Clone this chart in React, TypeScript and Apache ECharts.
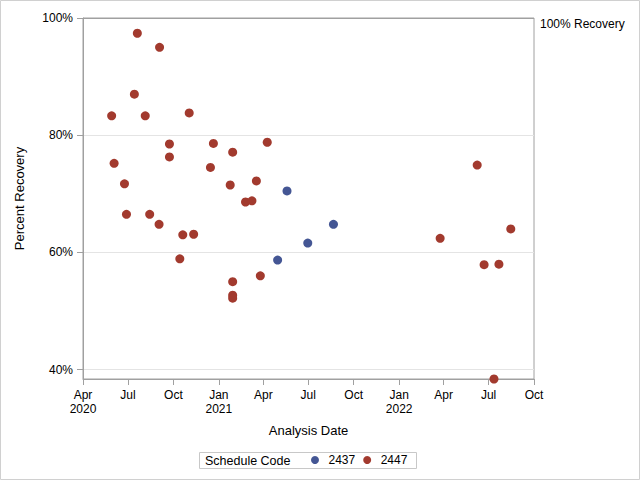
import React, { useEffect, useRef } from 'react';
import * as echarts from 'echarts';

// Schedule Code 2437
const dates2437 = ['2021-04-30', '2021-05-19', '2021-06-30', '2021-08-21'];
const values2437 = [58.7, 70.5, 61.6, 64.8];

// Schedule Code 2447
const dates2447 = [
  '2020-05-29', '2020-06-03', '2020-06-24', '2020-06-28', '2020-07-14', '2020-07-20',
  '2020-08-05', '2020-08-14', '2020-09-02', '2020-09-03', '2020-09-23', '2020-09-23',
  '2020-10-14', '2020-10-20', '2020-11-02', '2020-11-11', '2020-12-15', '2020-12-21',
  '2021-01-24', '2021-01-29', '2021-01-29', '2021-01-29', '2021-01-29', '2021-02-24',
  '2021-03-09', '2021-03-18', '2021-03-26', '2021-04-09',
  '2022-03-25', '2022-06-08', '2022-06-22', '2022-07-12', '2022-07-22', '2022-08-15',
];
const values2447 = [
  83.3, 75.2, 71.7, 66.5, 87.0, 97.4,
  83.3, 66.5, 64.8, 95.0, 78.5, 76.3,
  58.9, 63.0, 83.8, 63.1, 74.5, 78.6,
  71.5, 77.1, 55.0, 52.7, 52.2, 68.6,
  68.8, 72.2, 56.0, 78.8,
  62.4, 74.9, 57.9, 38.4, 58.0, 64.0,
];

const seriesNames = ['2437', '2447'];
const seriesColors = ['#445694', '#A23A2E'];

const xTickDates = [
  '2020-04-01', '2020-07-01', '2020-10-01', '2021-01-01', '2021-04-01', '2021-07-01',
  '2021-10-01', '2022-01-01', '2022-04-01', '2022-07-01', '2022-10-01',
];
const yTicks = [40, 60, 80, 100];
const yMin = 38.4;
const yMax = 100;
const referenceValue = 100;
const referenceLabel = '100% Recovery';
const monthNames = ['Jan', 'Feb', 'Mar', 'Apr', 'May', 'Jun', 'Jul', 'Aug', 'Sep', 'Oct', 'Nov', 'Dec'];

const toTime = (s: string) => {
  const [y, m, d] = s.split('-').map(Number);
  return Date.UTC(y, m - 1, d);
};

const FONT = "'Liberation Sans', Arial, Helvetica, sans-serif";
const AXIS_COLOR = '#A0A0A0';
const GRID_COLOR = '#E4E4E4';

export default function App() {
  const ref = useRef<HTMLDivElement>(null);

  useEffect(() => {
    document.body.style.margin = '0';
    if (!ref.current) return;
    const chart = echarts.init(ref.current, undefined, { renderer: 'svg' });
    const xTicks = xTickDates.map(toTime);
    const xMin = xTicks[0];
    const xMax = xTicks[xTicks.length - 1];

    const mk = (dates: string[], vals: number[]) => dates.map((d, i) => [toTime(d), vals[i]]);

    const option: any = {
      animation: false,
      textStyle: { fontFamily: FONT },
      grid: {
        left: 83,
        top: 18,
        width: 451,
        height: 361,
        show: true,
        borderColor: AXIS_COLOR,
        borderWidth: 1,
        outerBoundsMode: 'none',
        containLabel: false,
      },
      xAxis: {
        type: 'value',
        min: xMin,
        max: xMax,
        name: 'Analysis Date',
        nameLocation: 'middle',
        nameGap: 45,
        nameTextStyle: { fontSize: 13, color: '#000', fontFamily: FONT },
        axisLine: { show: true, lineStyle: { color: AXIS_COLOR } },
        axisTick: { show: true, length: 6, lineStyle: { color: AXIS_COLOR }, customValues: xTicks },
        axisLabel: {
          customValues: xTicks,
          fontSize: 12,
          color: '#000',
          fontFamily: FONT,
          lineHeight: 14,
          margin: 9,
          showMinLabel: true,
          showMaxLabel: true,
          hideOverlap: false,
          formatter: (v: number) => {
            const dt = new Date(v);
            const m = dt.getUTCMonth();
            const label = monthNames[m];
            if (m === 0 || v === xMin) return label + '\n' + dt.getUTCFullYear();
            return label;
          },
        },
        splitLine: { show: false },
      },
      yAxis: {
        type: 'value',
        min: yMin,
        max: yMax,
        name: 'Percent Recovery',
        nameLocation: 'middle',
        nameGap: 57,
        nameTextStyle: { fontSize: 13, color: '#000', fontFamily: FONT },
        axisLine: { show: true, lineStyle: { color: AXIS_COLOR } },
        axisTick: { show: true, length: 6, lineStyle: { color: AXIS_COLOR }, customValues: yTicks },
        axisLabel: {
          customValues: yTicks,
          fontSize: 12,
          color: '#000',
          fontFamily: FONT,
          margin: 10,
          showMinLabel: true,
          showMaxLabel: true,
          formatter: (v: number) => v + '%',
        },
        splitLine: { show: true, lineStyle: { color: GRID_COLOR, width: 1 } },
      },
      legend: {
        data: seriesNames.map((n) => ({ name: n, icon: 'circle' })),
        left: 311,
        top: 453,
        padding: 0,
        itemWidth: 17,
        itemHeight: 8,
        itemGap: 8,
        selectedMode: false,
        textStyle: { fontSize: 12, color: '#000', fontFamily: FONT, lineHeight: 14 },
      },
      graphic: [
        {
          type: 'rect',
          shape: { x: 0.5, y: 0.5, width: 639, height: 479 },
          style: { fill: 'none', stroke: '#D0D0D0', lineWidth: 1 },
          silent: true,
        },
        {
          type: 'rect',
          shape: { x: 199.5, y: 452.5, width: 217, height: 16 },
          style: { fill: 'none', stroke: '#C8C8C8', lineWidth: 1 },
          silent: true,
        },
        {
          type: 'text',
          x: 205,
          y: 460.5,
          style: {
            text: 'Schedule Code',
            fontSize: 12.5,
            fontFamily: FONT,
            fill: '#000',
            verticalAlign: 'middle',
            align: 'left',
          },
          silent: true,
        },
      ],
      series: [
        {
          name: seriesNames[0],
          type: 'scatter',
          symbol: 'circle',
          symbolSize: 9,
          itemStyle: { color: seriesColors[0], opacity: 1 },
          data: mk(dates2437, values2437),
          markLine: {
            silent: true,
            symbol: 'none',
            lineStyle: { color: AXIS_COLOR, type: 'solid', width: 1 },
            label: {
              show: true,
              position: 'end',
              formatter: referenceLabel,
              fontSize: 12,
              color: '#000',
              fontFamily: FONT,
              distance: 6,
              verticalAlign: 'top',
            },
            data: [{ yAxis: referenceValue }],
          },
        },
        {
          name: seriesNames[1],
          type: 'scatter',
          symbol: 'circle',
          symbolSize: 9,
          itemStyle: { color: seriesColors[1], opacity: 1 },
          data: mk(dates2447, values2447),
        },
      ],
    };
    chart.setOption(option);
    return () => chart.dispose();
  }, []);

  return <div ref={ref} style={{ width: 640, height: 480 }} />;
}
